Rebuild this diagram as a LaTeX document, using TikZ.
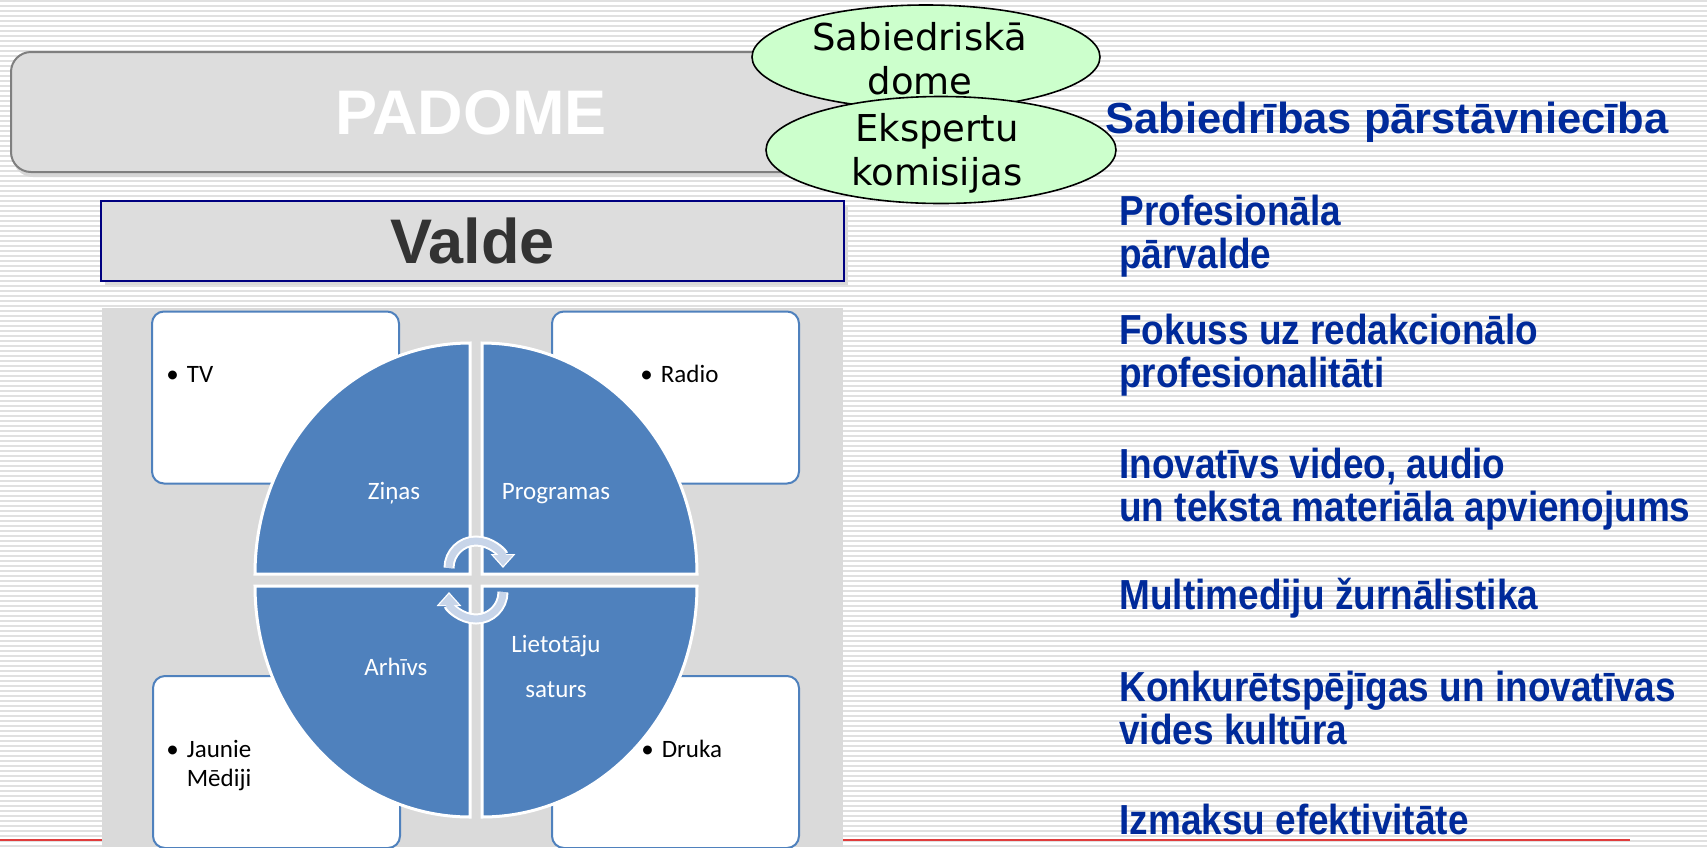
\documentclass[tikz,border=0pt]{standalone}
\usepackage{fontspec}
\setmainfont{Liberation Sans}
\newfontfamily\calfont{Carlito}
\newfontfamily\verdfont{DejaVu Sans}
\newfontfamily\narrowfont[FakeStretch=0.88]{Liberation Sans}
\usepackage{tikz}
\usetikzlibrary{shapes,arrows,arrows.meta,positioning,calc}

\definecolor{stripegray}{HTML}{E0E0E0}
\definecolor{boxgray}{HTML}{DDDDDD}
\definecolor{framegray}{HTML}{7F7F7F}
\definecolor{valdeblue}{HTML}{000080}
\definecolor{valdetext}{HTML}{333333}
\definecolor{domegreen}{HTML}{CCFFCC}
\definecolor{itemblue}{HTML}{002A9A}
\definecolor{cycleblue}{HTML}{4F81BD}
\definecolor{panelgray}{HTML}{DADADA}
\definecolor{arrowblue}{HTML}{C8D5E9}
\definecolor{baseRed}{HTML}{E03C3C}

\tikzset{
	stripe/.style={stripegray, line width=1pt},
	bigtitle/.style={inner sep=0pt, font=\fontsize{31.5}{38}\selectfont\bfseries},
	dome/.style={ellipse, draw=black, line width=0.8pt, fill=domegreen, inner sep=0pt},
	dometext/.style={align=center, inner sep=0pt, font=\verdfont\fontsize{18.5}{22}\selectfont},
	titletext/.style={anchor=base west, text=itemblue, inner sep=0pt, font=\bfseries\fontsize{21.75}{24}\selectfont},
	itemtext/.style={anchor=base west, text=itemblue, align=left, inner sep=0pt, font=\narrowfont\bfseries\fontsize{21}{21.5}\selectfont},
	mediabox/.style={draw=cycleblue, line width=1pt, fill=white, rounded corners=6pt, minimum width=123.5pt, minimum height=86pt, inner sep=0pt},
	bullettext/.style={anchor=base west, inner sep=0pt, font=\calfont\fontsize{12.5}{14.5}\selectfont},
	quarter/.style={fill=cycleblue, draw=white, line width=1.5pt},
	qlabel/.style={anchor=base, text=white, inner sep=0pt, font=\calfont\fontsize{12.5}{15}\selectfont},
	arrowback/.style={draw=white, line width=5.5pt, -{Triangle[length=7pt,width=12pt]}},
	arrowfront/.style={draw=arrowblue, line width=3.5pt, -{Triangle[length=5.5pt,width=9.5pt]}, shorten >=1pt},
}

\begin{document}
\begin{tikzpicture}[x=0.5pt, y=-0.5pt]
	\useasboundingbox (0,0) rectangle (1707,847);
	\fill[white] (0,0) rectangle (1707,847);
	\foreach \y in {1,6,...,846}
		\draw[stripe] (0,\y) -- (1707,\y);
	\draw[baseRed, line width=1pt] (0,840) -- (1630,840);

	% padome un valde
	\fill[black!16, rounded corners=10pt] (13,56) rectangle (872,177);
	\node[draw=framegray, line width=1pt, fill=boxgray, rounded corners=10pt, minimum width=429.5pt, minimum height=60pt, inner sep=0pt] (padome) at (440.5,112) {};
	\node[bigtitle, text=white] (padometxt) at (471,113) {PADOME};

	\fill[black!15] (105,205) rectangle (848,285);
	\node[draw=valdeblue, line width=1pt, fill=boxgray, minimum width=371.5pt, minimum height=40pt, bigtitle, text=valdetext] (valde) at (472.5,241) {Valde};

	\node[dome, minimum width=174pt, minimum height=52pt] (sabdome) at (926,57) {};
	\node[dometext] (sabdometxt) at (920,59) {Sabiedriskā\\dome};
	\node[dome, minimum width=175pt, minimum height=53.5pt] (ekspkom) at (941,150) {};
	\node[dometext] (ekspkomtxt) at (937,153) {Ekspertu\\komisijas};

	% labajā pusē
	\node[titletext] (sabpar) at (1105,133) {Sabiedrības pārstāvniecība};
	\node[itemtext] (profparv) at (1119,268) {Profesionāla\\pārvalde};
	\node[itemtext] (fokuss) at (1119,387) {Fokuss uz redakcionālo\\profesionalitāti};
	\node[itemtext] (inovat) at (1119,521) {Inovatīvs video, audio\\un teksta materiāla apvienojums};
	\node[itemtext] (multim) at (1119,609) {Multimediju žurnālistika};
	\node[itemtext] (konkur) at (1119,744) {Konkurētspējīgas un inovatīvas\\vides kultūra};
	\node[itemtext] (izmaksu) at (1119,834) {Izmaksu efektivitāte};

	% cikls
	\fill[panelgray] (102,308) rectangle (843,847);
	\node[mediabox] (tvbox) at (275.5,397.5) {};
	\node[mediabox] (radiobox) at (675.5,397.5) {};
	\node[mediabox] (jaunbox) at (276.5,762) {};
	\node[mediabox] (drukabox) at (675.5,762) {};
	\node[bullettext] (tv) at (166,382) {\textbullet\hspace{4pt}TV};
	\node[bullettext] (radio) at (640,382) {\textbullet\hspace{4pt}Radio};
	\node[bullettext] (jaunie) at (166,757) {\textbullet\hspace{4pt}\begin{tabular}[t]{@{}l@{}}Jaunie\\Mēdiji\end{tabular}};
	\node[bullettext] (druka) at (641,757) {\textbullet\hspace{4pt}Druka};

	\draw[quarter] (470,574) -- (255,574) arc[start angle=180, end angle=270, x radius=215, y radius=231] -- cycle;
	\draw[quarter] (482,574) -- (482,343) arc[start angle=270, end angle=360, x radius=215, y radius=231] -- cycle;
	\draw[quarter] (470,586) -- (255,586) arc[start angle=180, end angle=90, x radius=215, y radius=231] -- cycle;
	\draw[quarter] (482,586) -- (697,586) arc[start angle=0, end angle=90, x radius=215, y radius=231] -- cycle;

	\draw[arrowback] (449,568) arc[start angle=180, end angle=360, radius=27];
	\draw[arrowfront] (449,568) arc[start angle=180, end angle=360, radius=27];
	\draw[arrowback] (503,592) arc[start angle=0, end angle=180, radius=27];
	\draw[arrowfront] (503,592) arc[start angle=0, end angle=180, radius=27];

	\node[qlabel] (zinas) at (394,499) {Ziņas};
	\node[qlabel] (programas) at (556,499) {Programas};
	\node[qlabel] (arhivs) at (396,675) {Arhīvs};
	\node[qlabel] (lietot) at (556,652) {Lietotāju};
	\node[qlabel] (saturs) at (556,697) {saturs};
\end{tikzpicture}
\end{document}
